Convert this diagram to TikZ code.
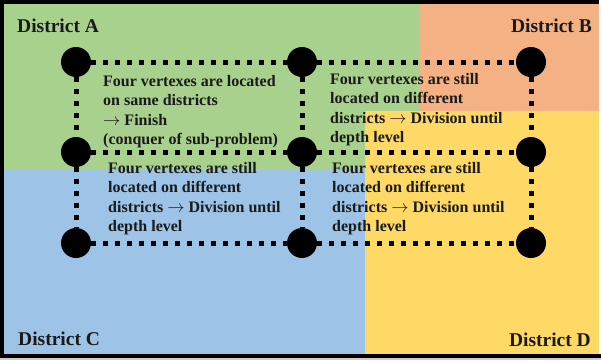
\documentclass[tikz,border=0pt]{standalone}
\usepackage{fontspec}
\setmainfont{Liberation Serif}
\definecolor{zoneA}{HTML}{A9D18E}
\definecolor{zoneB}{HTML}{F4B183}
\definecolor{zoneC}{HTML}{9DC3E6}
\definecolor{zoneD}{HTML}{FFD966}
\definecolor{inkdark}{HTML}{1A1A1A}
\begin{document}
\begin{tikzpicture}[x=1pt,y=-1pt,
  vertex/.style={circle,fill=black,minimum size=30pt,inner sep=0pt},
  link/.style={line width=5pt,dash pattern=on 5pt off 7pt},
  % a four-line note is placed by the baseline of its last line
  note/.style={font=\bfseries\fontsize{16}{19.5}\selectfont,align=left,
    anchor=base west,inner sep=0pt,text=inkdark},
  district/.style={font=\bfseries\fontsize{19.5}{22}\selectfont,
    inner sep=0pt,text=inkdark}]
\useasboundingbox (0,0) rectangle (601,360);
\fill[white] (0,0) rectangle (601,360);
\fill[black!20] (0,357) rectangle (601,360);

% district areas
\fill[zoneA] (3,3) rectangle (420,111);
\fill[zoneA] (3,111) rectangle (365,170);
\fill[zoneB] (420,3) rectangle (599,111);
\fill[zoneD] (365,111) rectangle (599,355);
\fill[zoneC] (3,170) rectangle (365,355);

% frame
\draw[line width=4pt] (599,2) -- (1.5,2) -- (1.5,355.5) -- (601,355.5);

% grid vertices
\node[vertex] (v11) at (76,62) {};
\node[vertex] (v12) at (302,62) {};
\node[vertex] (v13) at (531,62) {};
\node[vertex] (v21) at (76,152) {};
\node[vertex] (v22) at (302,152) {};
\node[vertex] (v23) at (531,152) {};
\node[vertex] (v31) at (76,243) {};
\node[vertex] (v32) at (302,243) {};
\node[vertex] (v33) at (531,243) {};

% dotted links
\draw[link] (v11) -- (v12);
\draw[link] (v12) -- (v13);
\draw[link] (v21) -- (v22);
\draw[link] (v22) -- (v23);
\draw[link] (v31) -- (v32);
\draw[link] (v32) -- (v33);
\draw[link] (v11) -- (v21);
\draw[link] (v21) -- (v31);
\draw[link] (v12) -- (v22);
\draw[link] (v22) -- (v32);
\draw[link] (v13) -- (v23);
\draw[link] (v23) -- (v33);

% district names
\node[district,anchor=base west] (dA) at (17,32) {District A};
\node[district,anchor=base east] (dB) at (592,32) {District B};
\node[district,anchor=base west] (dC) at (18,345) {District C};
\node[district,anchor=base east] (dD) at (591,346) {District D};

% notes
\node[note] (n1) at (103,144.5) {Four vertexes are located\\on same districts\\$\rightarrow$ Finish\\(conquer of sub-problem)};
\node[note] (n2) at (330,142.5) {Four vertexes are still\\located on different\\districts $\rightarrow$ Division until\\depth level};
\node[note] (n3) at (108,231.5) {Four vertexes are still\\located on different\\districts $\rightarrow$ Division until\\depth level};
\node[note] (n4) at (332,231.5) {Four vertexes are still\\located on different\\districts $\rightarrow$ Division until\\depth level};
\end{tikzpicture}
\end{document}
